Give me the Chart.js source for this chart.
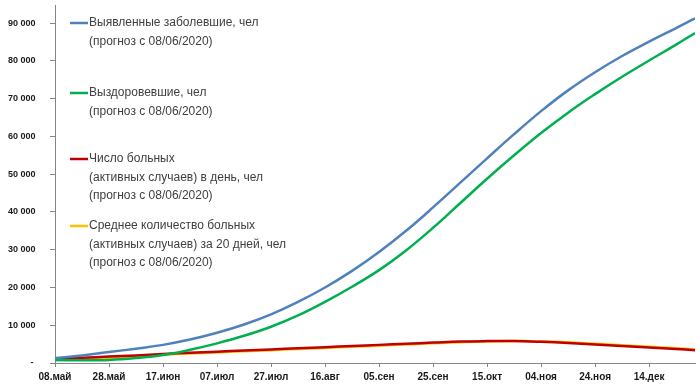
<!DOCTYPE html>
<html>
<head>
<meta charset="utf-8">
<script src="https://cdn.jsdelivr.net/npm/chart.js@4"></script>
<style>
    html, body { margin: 0; padding: 0; background: #fff; }
    #wrap { width: 700px; height: 388px; position: relative; }
</style>
</head>
<body>
<div id="wrap"><canvas id="chart"></canvas></div>
<script>
// Дни от 08.май
const days = [0, 10, 20, 30, 40, 50, 60, 70, 80, 90, 100, 110, 120, 130, 140, 150, 160, 170, 180, 190, 200, 210, 220, 230, 237];

const confirmed = [1300, 2000, 2900, 3800, 4800, 6200, 8000, 10200, 12900, 16200, 20000, 24400, 29400, 35000, 41200, 47700, 54200, 60600, 66700, 72200, 77000, 81300, 85100, 88700, 91300];
const recovered = [800, 700, 800, 1300, 2100, 3500, 5200, 7200, 9600, 12600, 16200, 20200, 24600, 29800, 35800, 42300, 48800, 55000, 60900, 66300, 71200, 75800, 80100, 84300, 87400];
const activeDaily = [1100, 1400, 1700, 2000, 2400, 2700, 3000, 3300, 3600, 3900, 4200, 4500, 4800, 5100, 5400, 5700, 5800, 5800, 5600, 5300, 4900, 4500, 4100, 3700, 3400];
const activeAvg20 = [800, 1100, 1400, 1800, 2200, 2500, 2800, 3100, 3400, 3700, 4000, 4300, 4600, 4900, 5200, 5500, 5700, 5800, 5700, 5500, 5100, 4700, 4300, 3900, 3600];

// Подписи осей
const tickDays = [0, 20, 40, 60, 80, 100, 120, 140, 160, 180, 200, 220];
const tickLabels = ['08.май', '28.май', '17.июн', '07.июл', '27.июл', '16.авг', '05.сен', '25.сен', '15.окт', '04.ноя', '24.ноя', '14.дек'];
const yTicks = [0, 10000, 20000, 30000, 40000, 50000, 60000, 70000, 80000, 90000];

const seriesLabels = [
    ['Выявленные заболевшие, чел', '(прогноз с 08/06/2020)'],
    ['Выздоровевшие, чел', '(прогноз с 08/06/2020)'],
    ['Число больных', '(активных случаев) в день, чел', '(прогноз с 08/06/2020)'],
    ['Среднее количество больных', '(активных случаев) за 20 дней, чел', '(прогноз с 08/06/2020)']
];
const seriesColors = ['#4F81BD', '#00B050', '#C00000', '#FFC000'];

const toPoints = arr => arr.map((v, i) => ({ x: days[i], y: v }));

// Легенда внутри области графика
const legendTops = [23, 93, 159, 226];
const insideLegend = {
    id: 'insideLegend',
    afterDraw(chart) {
        const ctx = chart.ctx;
        ctx.save();
        ctx.font = '12px "Liberation Sans", Arial, sans-serif';
        ctx.textBaseline = 'middle';
        ctx.fillStyle = '#404040';
        seriesLabels.forEach((lines, i) => {
            const y0 = legendTops[i];
            ctx.strokeStyle = seriesColors[i];
            ctx.lineWidth = 2.5;
            ctx.beginPath();
            ctx.moveTo(70, y0);
            ctx.lineTo(88, y0);
            ctx.stroke();
            lines.forEach((t, j) => ctx.fillText(t, 89, y0 + j * 18.5));
        });
        ctx.restore();
    }
};

const makeSet = (i, data) => ({
    label: seriesLabels[i].join(' '),
    data: toPoints(data),
    borderColor: seriesColors[i],
    backgroundColor: seriesColors[i],
    borderWidth: 2.5,
    pointRadius: 0,
    tension: 0.4,
    fill: false
});

const axisFont = { family: '"Liberation Sans", Arial, sans-serif', weight: 'bold' };
const fmt = v => v === 0 ? '         -' : String(v).replace(/\B(?=(\d{3})+(?!\d))/g, ' ');

new Chart(document.getElementById('chart'), {
    type: 'line',
    data: {
        datasets: [
            makeSet(0, confirmed),
            makeSet(1, recovered),
            makeSet(2, activeDaily),
            makeSet(3, activeAvg20)
        ]
    },
    options: {
        responsive: true,
        maintainAspectRatio: false,
        animation: false,
        layout: { padding: { top: 0, right: 5, left: 8, bottom: 0 } },
        plugins: {
            legend: { display: false },
            tooltip: { enabled: false }
        },
        scales: {
            x: {
                type: 'linear',
                min: 0,
                max: 237,
                afterBuildTicks: scale => {
                    scale.ticks = tickDays.map(v => ({ value: v }));
                },
                afterFit: scale => { scale.height = 25; },
                grid: {
                    drawOnChartArea: false,
                    tickLength: 4,
                    color: '#868686'
                },
                border: { color: '#868686', width: 1 },
                ticks: {
                    autoSkip: false,
                    maxRotation: 0,
                    padding: 4,
                    color: '#1a1a1a',
                    font: { ...axisFont, size: 10 },
                    callback: v => tickLabels[tickDays.indexOf(v)]
                }
            },
            y: {
                min: 0,
                max: 94700,
                afterBuildTicks: scale => {
                    scale.ticks = yTicks.map(v => ({ value: v }));
                },
                afterFit: scale => { scale.width = 47; },
                grid: {
                    drawOnChartArea: false,
                    tickLength: 5,
                    color: '#868686'
                },
                border: { color: '#868686', width: 1 },
                ticks: {
                    autoSkip: false,
                    padding: 0,
                    crossAlign: 'far',
                    color: '#1a1a1a',
                    font: { ...axisFont, size: 9 },
                    callback: fmt
                }
            }
        }
    },
    plugins: [insideLegend]
});
</script>
</body>
</html>
